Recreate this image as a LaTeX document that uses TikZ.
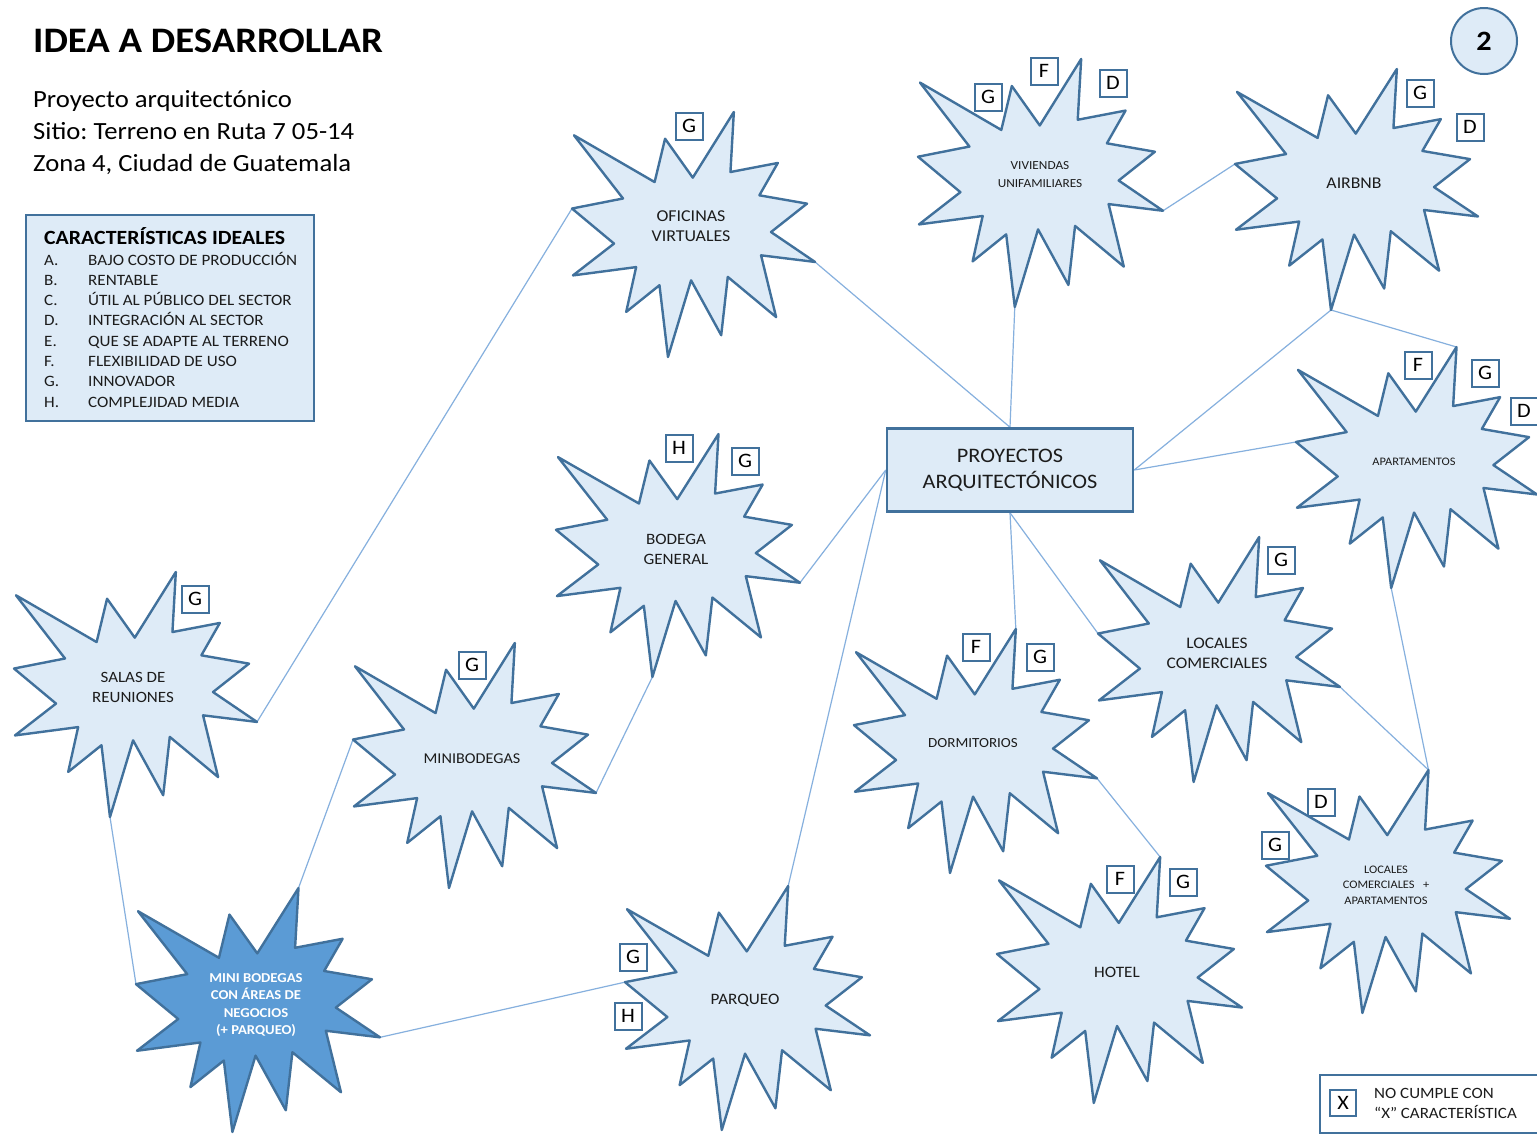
\documentclass[tikz,border=0pt]{standalone}
\usepackage{fontspec}
\setmainfont{Carlito}[FakeStretch=1.08]
\usetikzlibrary{calc}
\frenchspacing

\pgfdeclarelayer{bg}
\pgfdeclarelayer{links}
\pgfsetlayers{bg,links,main}

\definecolor{edgeblue}{HTML}{41719C}
\definecolor{paleblue}{HTML}{DEEBF7}
\definecolor{midblue}{HTML}{5B9BD5}
\definecolor{linkblue}{HTML}{86B0DE}
\definecolor{inkgray}{HTML}{1C1C1C}

\newcommand\fsz[2]{\fontsize{#1}{#2}\selectfont}

% Twelve-point explosion: name, left, top, width, height, fill.
% Odd-numbered coordinates are the tips (5 = tall top tip, 11 = right, 17 = bottom, 23 = left).
\newcommand\burst[6]{%
  \begin{scope}[shift={(#2,#3)},xscale=#4,yscale=#5]
    \foreach \k/\bu/\bv in {1/0.008/0.095,2/0.340/0.286,3/0.383/0.109,4/0.497/0.268,%
      5/0.666/0.000,6/0.652/0.245,7/0.847/0.208,8/0.771/0.340,9/0.967/0.374,%
      10/0.819/0.490,11/1.000/0.612,12/0.778/0.585,13/0.840/0.837,14/0.641/0.673,%
      15/0.614/0.911,16/0.490/0.687,17/0.395/1.000,18/0.360/0.707,19/0.223/0.816,%
      20/0.264/0.633,21/0.004/0.667,22/0.173/0.537,23/0.000/0.394,24/0.210/0.353}%
      {\coordinate (#1-\k) at (\bu,\bv);}
  \end{scope}
  \draw[burstline,fill=#6] (#1-1) \foreach \k in {2,...,24}{ -- (#1-\k)} -- cycle;
}

\begin{document}
\begin{tikzpicture}[x=1pt,y=-1pt,
  burstline/.style={draw=edgeblue,line width=2.4pt,line join=round},
  link/.style={draw=linkblue,line width=1.2pt},
  tag/.style={draw=edgeblue,line width=2pt,fill=white,minimum size=27pt,inner sep=0pt,text=black,font=\fsz{20.5}{20}},
  starlabel/.style={align=center,text=inkgray,inner sep=0pt},
  plain/.style={anchor=base west,inner sep=0pt,text=black}]
\useasboundingbox (0,0) rectangle (1537,1133);
\begin{pgfonlayer}{bg}
  \fill[white] (0,0) rectangle (1537,1133);
\end{pgfonlayer}

% heading
\node[plain,font=\bfseries\fsz{35.9}{40}] (title) at (33,52) {IDEA A DESARROLLAR};
\node[plain,font=\fsz{24.7}{32}] (sub1) at (33,107) {Proyecto arquitectónico};
\node[plain,font=\fsz{24.7}{32}] (sub2) at (33,139) {Sitio: Terreno en Ruta 7 05-14};
\node[plain,font=\fsz{24.7}{32}] (sub3) at (33,171) {Zona 4, Ciudad de Guatemala};

% page number
\node[circle,draw=edgeblue,fill=paleblue,line width=2pt,minimum size=66pt,inner sep=0pt,font=\bfseries\fsz{28}{28}] (page) at (1484,41) {2};

% list of ideal characteristics
\node[draw=edgeblue,fill=paleblue,line width=2pt,minimum width=288pt,minimum height=206pt,inner sep=0pt,anchor=north west] (charbox) at (25,214) {};
\node[plain,font=\bfseries\fsz{20.2}{24}] (chartitle) at (44,244) {CARACTERÍSTICAS IDEALES};
\foreach \ltr/\desc [count=\n from 0] in {A./BAJO COSTO DE PRODUCCIÓN,B./RENTABLE,C./ÚTIL AL PÚBLICO DEL SECTOR,D./INTEGRACIÓN AL SECTOR,E./QUE SE ADAPTE AL TERRENO,F./FLEXIBILIDAD DE USO,G./INNOVADOR,H./COMPLEJIDAD MEDIA}{
  \node[plain,text=inkgray,font=\fsz{15.8}{18}] (key-\n) at (44,{265+20.33*\n}) {\ltr};
  \node[plain,text=inkgray,font=\fsz{15.8}{18}] (item-\n) at (88,{265+20.33*\n}) {\desc};
}

% central box
\node[draw=edgeblue,fill=paleblue,line width=2.5pt,minimum width=246pt,minimum height=83pt,align=center,text=inkgray,font=\fsz{20.6}{26}] (proj) at (1010,470) {PROYECTOS\\ARQUITECTÓNICOS};

% explosions
\burst{ofic}{572}{112}{243}{245}{paleblue}
\burst{viv}{918}{59}{245}{248}{paleblue}
\burst{air}{1235}{69}{243}{241}{paleblue}
\burst{apt}{1296}{347}{241}{241}{paleblue}
\burst{bod}{556}{434}{244}{243}{paleblue}
\burst{salas}{14}{572}{243}{245}{paleblue}
\burst{minib}{353}{643}{243}{245}{paleblue}
\burst{mbn}{136}{888}{244}{244}{midblue}
\burst{park}{625}{886}{245}{244}{paleblue}
\burst{dorm}{854}{629}{243}{244}{paleblue}
\burst{loc}{1098}{537}{242}{245}{paleblue}
\burst{hotel}{997}{857}{245}{246}{paleblue}
\burst{locapt}{1266}{770}{244}{243}{paleblue}

% labels inside the explosions
\node[starlabel,font=\fsz{16.6}{20}] (ofic-text) at (691,226) {OFICINAS\\VIRTUALES};
\node[starlabel,font=\fsz{12.3}{18}] (viv-text) at (1040,175) {VIVIENDAS\\UNIFAMILIARES};
\node[starlabel,font=\fsz{16.4}{20}] (air-text) at (1354,183) {AIRBNB};
\node[starlabel,font=\fsz{11.5}{14}] (apt-text) at (1414,462) {APARTAMENTOS};
\node[starlabel,font=\fsz{15.8}{20}] (bod-text) at (676,549) {BODEGA\\GENERAL};
\node[starlabel,font=\fsz{15.7}{20}] (salas-text) at (133,687) {SALAS DE\\REUNIONES};
\node[starlabel,font=\fsz{15}{18}] (minib-text) at (472,759) {MINIBODEGAS};
\node[starlabel,text=white,font=\bfseries\fsz{13.6}{17.3}] (mbn-text) at (256,1005) {MINI BODEGAS\\CON ÁREAS DE\\NEGOCIOS\\(+ PARQUEO)};
\node[starlabel,font=\fsz{15.9}{20}] (park-text) at (745,1000) {PARQUEO};
\node[starlabel,font=\fsz{13.9}{18}] (dorm-text) at (973,743) {DORMITORIOS};
\node[starlabel,font=\fsz{16.1}{20}] (loc-text) at (1217,653) {LOCALES\\COMERCIALES};
\node[starlabel,font=\fsz{15.9}{20}] (hotel-text) at (1117,972) {HOTEL};
\node[starlabel,font=\fsz{11.5}{15.5}] (locapt-text) at (1386,885) {LOCALES\\COMERCIALES\ \ \ +\\APARTAMENTOS};

% characteristic tags
\node[tag] (ofic-g) at (689,126) {G};
\node[tag] (viv-g) at (988,97) {G};
\node[tag] (viv-f) at (1044,71) {F};
\node[tag] (viv-d) at (1113,83) {D};
\node[tag] (air-g) at (1420,93) {G};
\node[tag] (air-d) at (1470,127) {D};
\node[tag] (apt-f) at (1418,365) {F};
\node[tag] (apt-g) at (1485,373) {G};
\node[tag] (apt-d) at (1524,411) {D};
\node[tag] (bod-h) at (679,448) {H};
\node[tag] (bod-g) at (745,461) {G};
\node[tag] (salas-g) at (195,599) {G};
\node[tag] (minib-g) at (472,665) {G};
\node[tag] (dorm-f) at (976,647) {F};
\node[tag] (dorm-g) at (1040,657) {G};
\node[tag] (loc-g) at (1281,560) {G};
\node[tag] (hotel-f) at (1120,879) {F};
\node[tag] (hotel-g) at (1183,882) {G};
\node[tag] (locapt-d) at (1321,802) {D};
\node[tag] (locapt-g) at (1275,845) {G};
\node[tag] (park-g) at (633,957) {G};
\node[tag] (park-h) at (628,1016) {H};

% legend
\node[draw=edgeblue,line width=2pt,fill=white,minimum width=222pt,minimum height=58pt,inner sep=0pt,anchor=north west] (legend) at (1319,1074) {};
\node[tag,minimum size=26pt] (legend-x) at (1343,1103) {X};
\node[anchor=west,align=left,inner sep=0pt,text=inkgray,font=\fsz{15.7}{20}] (legend-text) at (1374,1103) {NO CUMPLE CON\\“X” CARACTERÍSTICA};

% connectors
\begin{pgfonlayer}{links}
  \draw[link] (salas-11) -- (ofic-23);
  \draw[link] (ofic-11) -- (proj.north);
  \draw[link] (viv-17) -- (proj.north);
  \draw[link] (viv-11) -- (air-23);
  \draw[link] (air-17) -- (proj.east);
  \draw[link] (air-17) -- (apt-5);
  \draw[link] (apt-23) -- (proj.east);
  \draw[link] (apt-17) -- (locapt-5);
  \draw[link] (loc-11) -- (locapt-5);
  \draw[link] (proj.south) -- (dorm-5);
  \draw[link] (proj.south) -- (loc-23);
  \draw[link] (proj.west) -- (bod-11);
  \draw[link] (proj.west) -- (park-5);
  \draw[link] (dorm-11) -- (hotel-5);
  \draw[link] (bod-17) -- (minib-11);
  \draw[link] (minib-23) -- (mbn-5);
  \draw[link] (salas-17) -- (mbn-23);
  \draw[link] (mbn-11) -- (park-23);
\end{pgfonlayer}
\end{tikzpicture}
\end{document}
